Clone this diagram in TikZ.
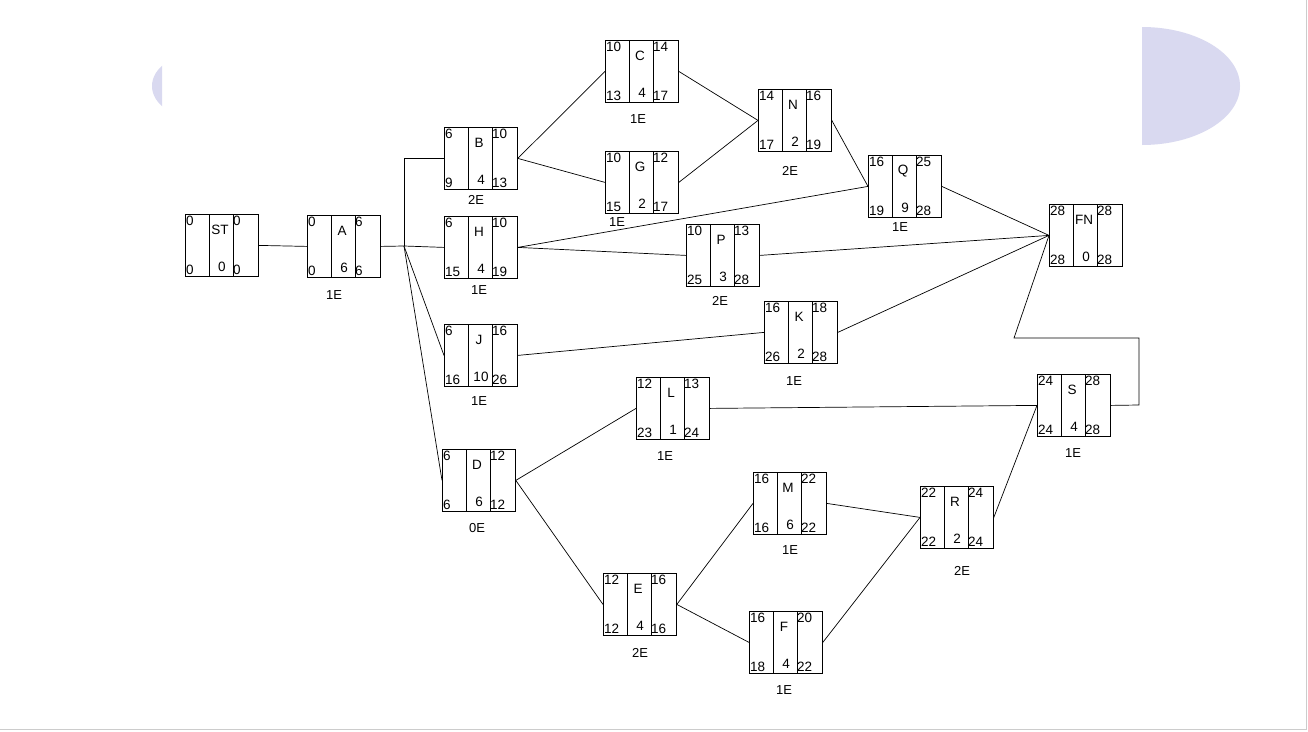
\documentclass[tikz,border=0pt]{standalone}
\usepackage{fontspec}
\setmainfont{Liberation Sans}
\usetikzlibrary{calc}
\begin{document}
\begin{tikzpicture}[x=1pt,y=-1pt,
  bx/.style={draw,line width=0.8pt,minimum width=73pt,minimum height=62pt,inner sep=0pt,anchor=north west},
  num/.style={font=\fontsize{13.5}{13.5}\selectfont,inner sep=1pt},
  lab/.style={font=\fontsize{13}{13}\selectfont,inner sep=0pt},
  ln/.style={line width=0.7pt}]
\useasboundingbox (0,0) rectangle (1308,731);
\fill[white] (0,0) rectangle (1308,731);
\definecolor{lav}{RGB}{217,217,240}
\begin{scope}\clip (0,0) rectangle (162,731);
\fill[lav] (200,86) ellipse [x radius=48, y radius=33];\end{scope}
\begin{scope}\clip (1142,0) rectangle (1308,731);
\fill[lav] (1142,86) ellipse [x radius=98, y radius=59];\end{scope}
\draw[gray!40] (0,729)--(1306,729)--(1306,0);
\newcommand{\pbx}[9]{%
 \node[bx] (#1) at (#2,#3) {};
 \draw[line width=0.8pt] ($(#1.north west)+(24,0)$) -- ($(#1.south west)+(24,0)$);
 \draw[line width=0.8pt] ($(#1.north west)+(48,0)$) -- ($(#1.south west)+(48,0)$);
 \node[num,anchor=north west] at ($(#1.north west)+(0,1)$) {#4};
 \node[num] at ($(#1.north west)+(35,16)$) {#5};
 \node[num,anchor=north west] at ($(#1.north west)+(47,1)$) {#6};
 \node[num,anchor=south west] at ($(#1.south west)+(0,-1)$) {#7};
 \node[num] at ($(#1.south west)+(37,-10)$) {#8};
 \node[num,anchor=south west] at ($(#1.south west)+(47,-1)$) {#9};}
\pbx{ST}{185}{214}{0}{ST}{0}{0}{0}{0}
\pbx{A}{307}{215}{0}{A}{6}{0}{6}{6}
\pbx{B}{444}{127}{6}{B}{10}{9}{4}{13}
\pbx{H}{444}{216}{6}{H}{10}{15}{4}{19}
\pbx{C}{605}{40}{10}{C}{14}{13}{4}{17}
\pbx{G}{605}{151}{10}{G}{12}{15}{2}{17}
\pbx{N}{758}{89}{14}{N}{16}{17}{2}{19}
\pbx{Q}{868}{155}{16}{Q}{25}{19}{9}{28}
\pbx{P}{686}{224}{10}{P}{13}{25}{3}{28}
\pbx{FN}{1049}{204}{28}{FN}{28}{28}{0}{28}
\pbx{J}{444}{324}{6}{J}{16}{16}{10}{26}
\pbx{K}{764}{301}{16}{K}{18}{26}{2}{28}
\pbx{L}{636}{377}{12}{L}{13}{23}{1}{24}
\pbx{S}{1037}{374}{24}{S}{28}{24}{4}{28}
\pbx{D}{442}{449}{6}{D}{12}{6}{6}{12}
\pbx{M}{753}{472}{16}{M}{22}{16}{6}{22}
\pbx{R}{920}{486}{22}{R}{24}{22}{2}{24}
\pbx{E}{603}{573}{12}{E}{16}{12}{4}{16}
\pbx{F}{749}{611}{16}{F}{20}{18}{4}{22}
\node[lab] (lA) at (334,295) {1E};
\node[lab] (lB) at (476,200) {2E};
\node[lab] (lH) at (479,290) {1E};
\node[lab] (lC) at (638,119) {1E};
\node[lab] (lG) at (617,222) {1E};
\node[lab] (lN) at (790,171) {2E};
\node[lab] (lQ) at (900,227) {1E};
\node[lab] (lP) at (720,301) {2E};
\node[lab] (lJ) at (479,401) {1E};
\node[lab] (lK) at (794,381) {1E};
\node[lab] (lL) at (665,456) {1E};
\node[lab] (lS) at (1073,453) {1E};
\node[lab] (lD) at (477,528) {0E};
\node[lab] (lM) at (790,550) {1E};
\node[lab] (lR) at (962,571) {2E};
\node[lab] (lE) at (640,653) {2E};
\node[lab] (lF) at (784,690) {1E};
\coordinate (j) at (404,246);
\coordinate (s1) at (1139,405);
\coordinate (s2) at (1139,338);
\coordinate (s3) at (1014,338);
\draw[ln] (ST.east)--(A.west);
\draw[ln] (A.east)--(j);
\draw[ln] (j)|-(B.west);
\draw[ln] (j)--(H.west);
\draw[ln] (j)--(J.west);
\draw[ln] (j)--(D.west);
\draw[ln] (B.east)--(C.west);
\draw[ln] (B.east)--(G.west);
\draw[ln] (C.east)--(N.west);
\draw[ln] (G.east)--(N.west);
\draw[ln] (N.east)--(Q.west);
\draw[ln] (H.east)--(Q.west);
\draw[ln] (H.east)--(P.west);
\draw[ln] (Q.east)--(FN.west);
\draw[ln] (P.east)--(FN.west);
\draw[ln] (J.east)--(K.west);
\draw[ln] (K.east)--(FN.west);
\draw[ln] (L.east)--(S.west);
\draw[ln] (S.east)--(s1)--(s2)--(s3)--(FN.west);
\draw[ln] (D.east)--(L.west);
\draw[ln] (D.east)--(E.west);
\draw[ln] (E.east)--(M.west);
\draw[ln] (E.east)--(F.west);
\draw[ln] (M.east)--(R.west);
\draw[ln] (F.east)--(R.west);
\draw[ln] (R.east)--(S.west);
\end{tikzpicture}
\end{document}
